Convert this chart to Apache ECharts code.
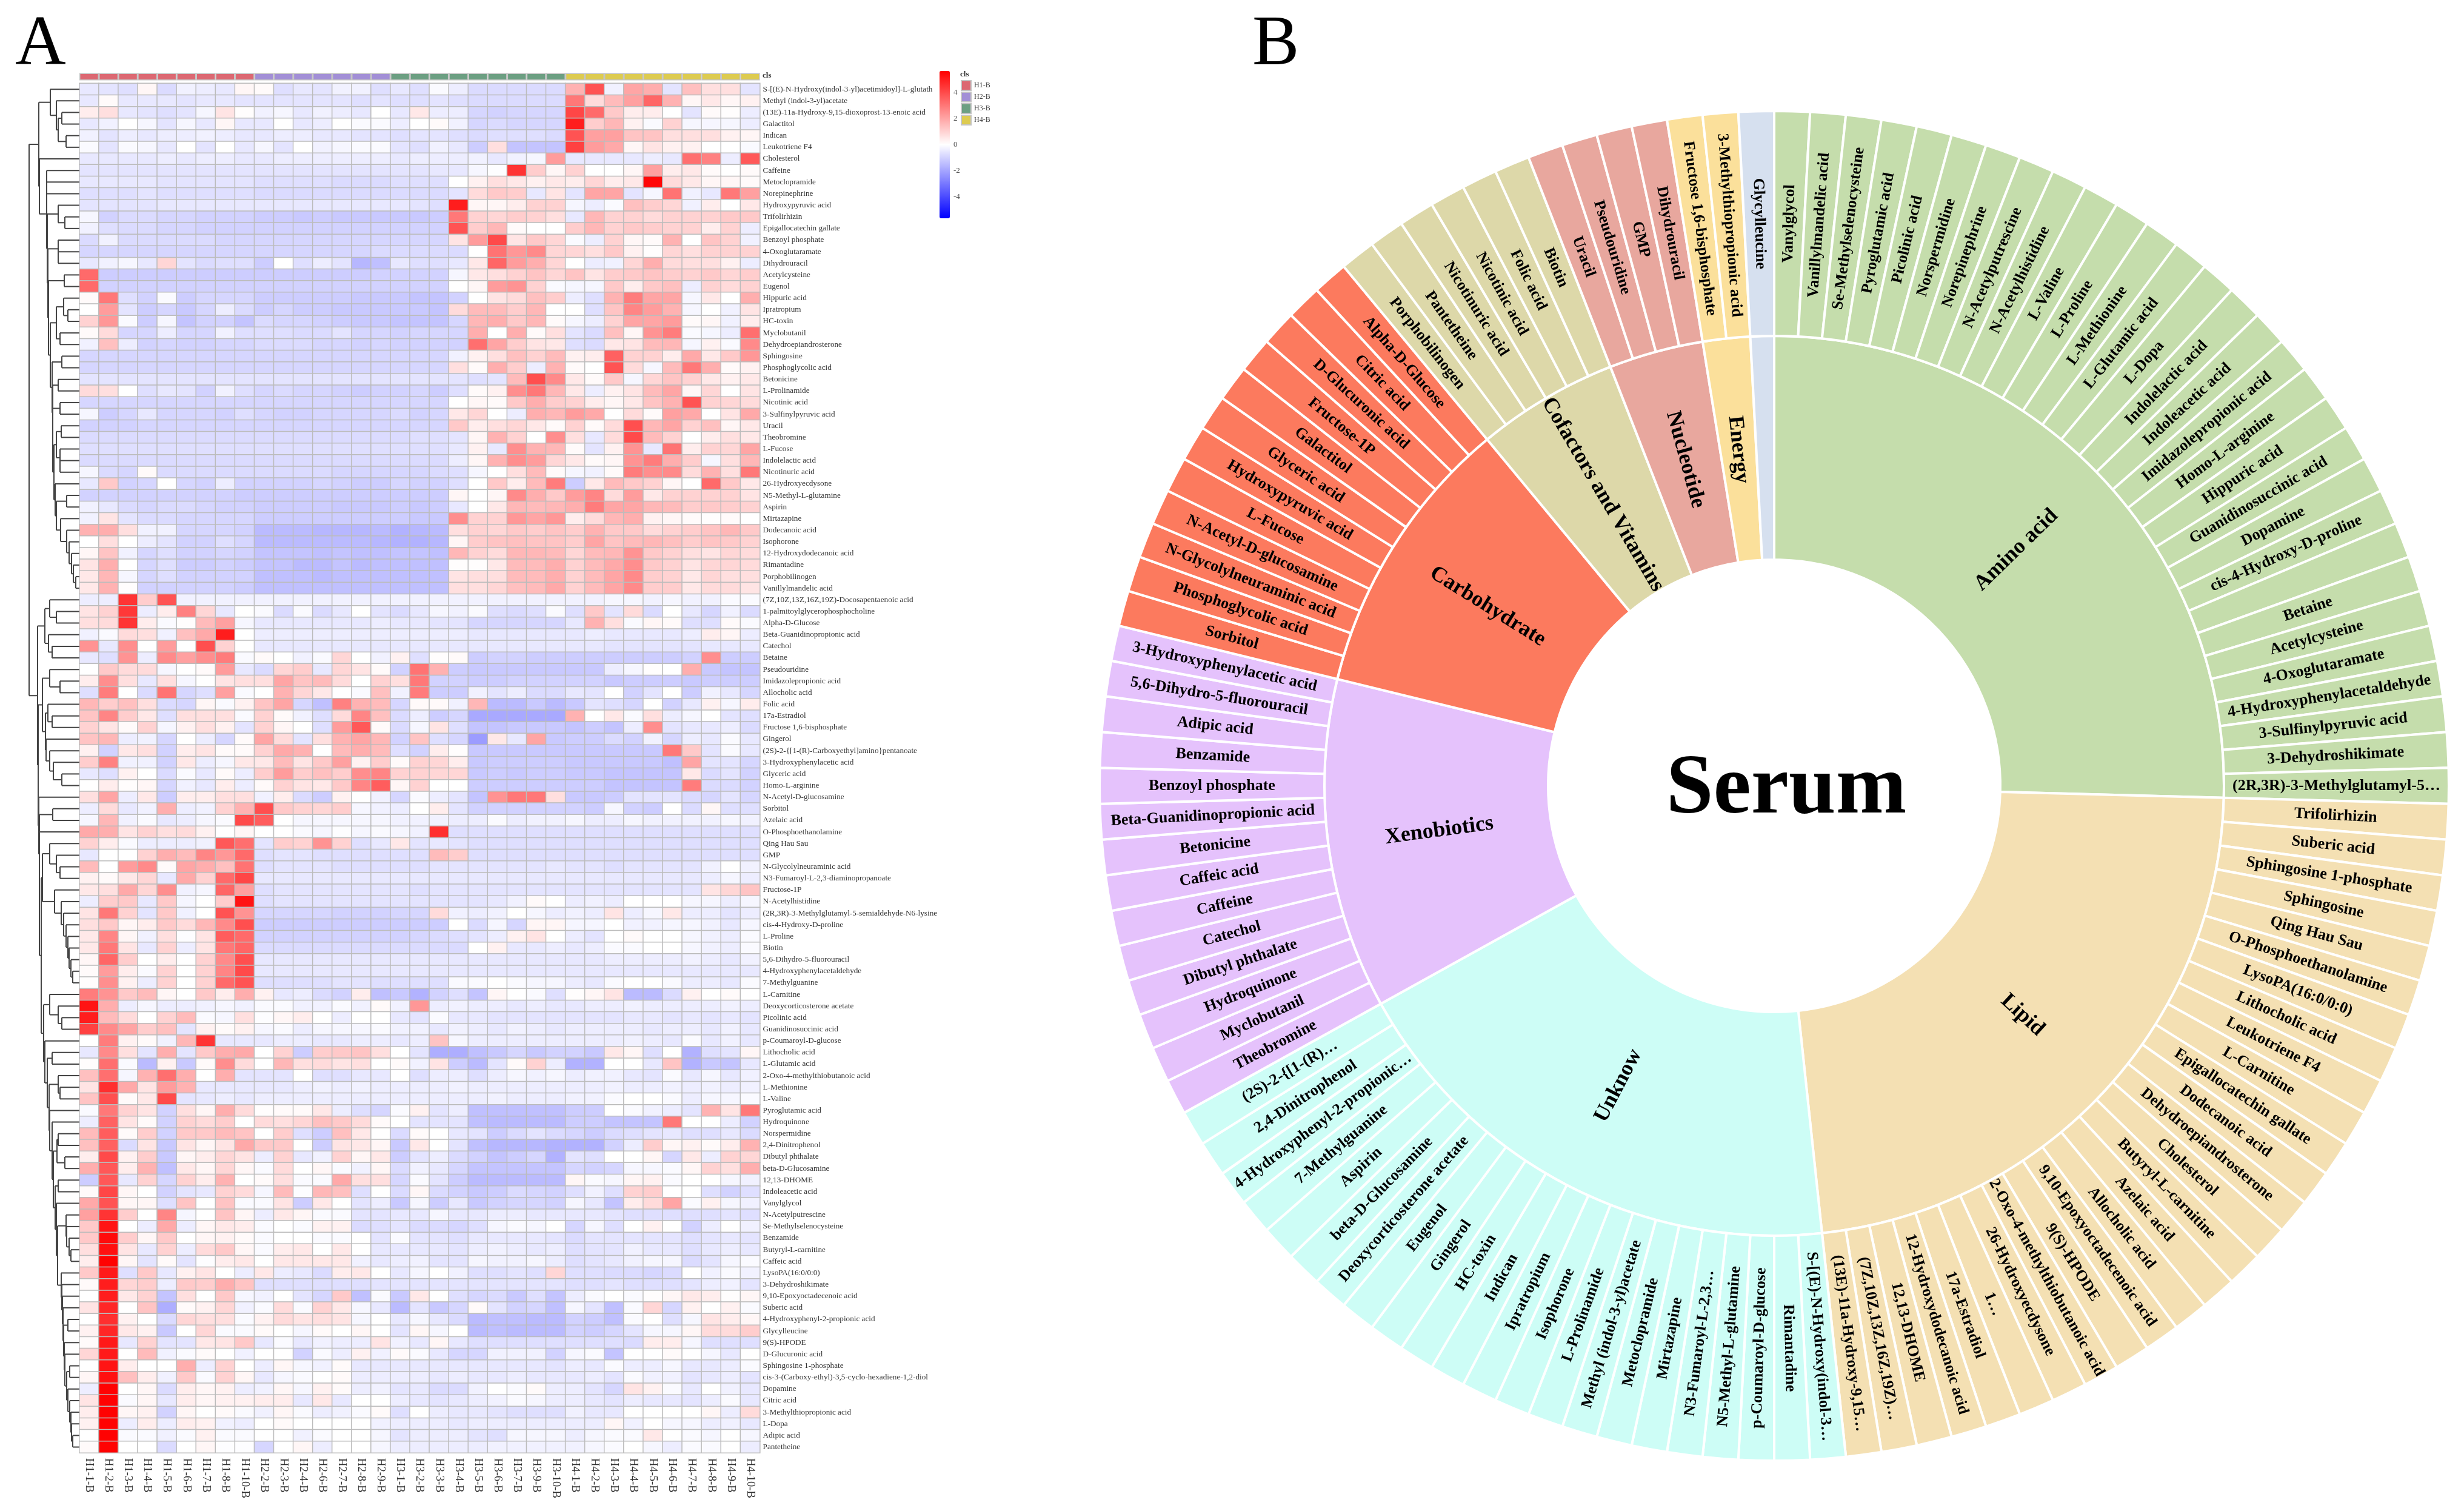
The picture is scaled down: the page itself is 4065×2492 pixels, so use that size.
<!DOCTYPE html>
<html><head><meta charset="utf-8"><style>html,body{margin:0;padding:0;background:#fff}#c{width:4065px;height:2492px}</style>
<script src="https://cdn.jsdelivr.net/npm/echarts@6/dist/echarts.min.js"></script></head><body><div id="c"></div><script>
const sampleNames=['H1-1-B','H1-2-B','H1-3-B','H1-4-B','H1-5-B','H1-6-B','H1-7-B','H1-8-B','H1-10-B','H2-2-B','H2-3-B','H2-4-B','H2-6-B','H2-7-B','H2-8-B','H2-9-B','H3-1-B','H3-2-B','H3-3-B','H3-4-B','H3-5-B','H3-6-B','H3-7-B','H3-9-B','H3-10-B','H4-1-B','H4-2-B','H4-3-B','H4-4-B','H4-5-B','H4-6-B','H4-7-B','H4-8-B','H4-9-B','H4-10-B'];
const groupNames=['H1-B','H2-B','H3-B','H4-B'];
const groupColors=['#DC6872','#A28FD6','#6C9F82','#DDCB50'];
const colorTicks=[-4,-2,0,2,4];
const rowNames=['S-[(E)-N-Hydroxy(indol-3-yl)acetimidoyl]-L-glutath','Methyl (indol-3-yl)acetate','(13E)-11a-Hydroxy-9,15-dioxoprost-13-enoic acid','Galactitol','Indican','Leukotriene F4','Cholesterol','Caffeine','Metoclopramide','Norepinephrine','Hydroxypyruvic acid','Trifolirhizin','Epigallocatechin gallate','Benzoyl phosphate','4-Oxoglutaramate','Dihydrouracil','Acetylcysteine','Eugenol','Hippuric acid','Ipratropium','HC-toxin','Myclobutanil','Dehydroepiandrosterone','Sphingosine','Phosphoglycolic acid','Betonicine','L-Prolinamide','Nicotinic acid','3-Sulfinylpyruvic acid','Uracil','Theobromine','L-Fucose','Indolelactic acid','Nicotinuric acid','26-Hydroxyecdysone','N5-Methyl-L-glutamine','Aspirin','Mirtazapine','Dodecanoic acid','Isophorone','12-Hydroxydodecanoic acid','Rimantadine','Porphobilinogen','Vanillylmandelic acid','(7Z,10Z,13Z,16Z,19Z)-Docosapentaenoic acid','1-palmitoylglycerophosphocholine','Alpha-D-Glucose','Beta-Guanidinopropionic acid','Catechol','Betaine','Pseudouridine','Imidazolepropionic acid','Allocholic acid','Folic acid','17a-Estradiol','Fructose 1,6-bisphosphate','Gingerol','(2S)-2-{[1-(R)-Carboxyethyl]amino}pentanoate','3-Hydroxyphenylacetic acid','Glyceric acid','Homo-L-arginine','N-Acetyl-D-glucosamine','Sorbitol','Azelaic acid','O-Phosphoethanolamine','Qing Hau Sau','GMP','N-Glycolylneuraminic acid','N3-Fumaroyl-L-2,3-diaminopropanoate','Fructose-1P','N-Acetylhistidine','(2R,3R)-3-Methylglutamyl-5-semialdehyde-N6-lysine','cis-4-Hydroxy-D-proline','L-Proline','Biotin','5,6-Dihydro-5-fluorouracil','4-Hydroxyphenylacetaldehyde','7-Methylguanine','L-Carnitine','Deoxycorticosterone acetate','Picolinic acid','Guanidinosuccinic acid','p-Coumaroyl-D-glucose','Lithocholic acid','L-Glutamic acid','2-Oxo-4-methylthiobutanoic acid','L-Methionine','L-Valine','Pyroglutamic acid','Hydroquinone','Norspermidine','2,4-Dinitrophenol','Dibutyl phthalate','beta-D-Glucosamine','12,13-DHOME','Indoleacetic acid','Vanylglycol','N-Acetylputrescine','Se-Methylselenocysteine','Benzamide','Butyryl-L-carnitine','Caffeic acid','LysoPA(16:0/0:0)','3-Dehydroshikimate','9,10-Epoxyoctadecenoic acid','Suberic acid','4-Hydroxyphenyl-2-propionic acid','Glycylleucine','9(S)-HPODE','D-Glucuronic acid','Sphingosine 1-phosphate','cis-3-(Carboxy-ethyl)-3,5-cyclo-hexadiene-1,2-diol','Dopamine','Citric acid','3-Methylthiopropionic acid','L-Dopa','Adipic acid','Pantetheine'];
const heatValues=[
[-.5,-.6,-.7,.2,-.8,-.3,-.4,-.5,.2,.1,-.7,-.5,-.6,-.3,-.3,-.7,-.5,-.7,-.1,-.4,-.8,-.8,-.8,-.8,-.8,1.7,3.8,-.3,2,1.8,-.6,1.4,.7,.7,-.6],
[-.5,.1,-.5,-.5,-.5,-.6,-.5,-.5,-.6,-.6,-.6,-.6,-.6,-.6,-.7,-.6,-.7,-.7,-.6,-.7,-.8,-.8,-.8,-.8,-.8,3,.8,1.5,2.1,3.4,1.7,.2,.5,.2,.3],
[.4,.7,-.5,-.6,-.7,-.6,-.2,.6,.05,-.3,-.2,-.5,-.3,-.4,-.5,0,-.5,.5,-.4,-.4,-.9,-1,-.9,-.9,-.9,4.1,3.3,1.2,.4,.4,0,-.6,.1,.05,-.4],
[-.5,-.3,0,-.2,-.6,-.2,-.5,.2,-.5,-.5,0,-.5,-.4,0,-.1,-.1,-.4,0,.1,-.3,-.9,-.8,-.9,-.9,-.9,5,1.1,1.6,.3,-.1,1,-.2,-.2,-.2,-.4],
[-.3,-.6,-.4,-.5,-.4,-.4,-.3,-.4,-.5,-.5,-.4,-.4,-.5,-.5,-.6,-.6,-.7,-.6,-.6,-.7,-.8,-.7,-.7,-.7,-.8,3.8,2.1,2.1,1.3,1.3,.7,.7,.7,.3,.2],
[-.1,-.6,-.1,-.2,-.5,0,-.6,0,-.5,-.2,-.6,0,-.3,-.2,-.1,-.1,-.6,-.7,-.3,-.5,-1.1,.7,-1.3,-1.3,-1.3,4.2,2.2,1.9,.2,.6,.3,.3,0,0,-.1],
[-.5,-.5,-.5,-.5,-.4,-.5,-.4,-.4,-.5,-.5,-.4,-.4,-.4,-.4,-.4,-.4,-.5,-.4,-.4,-.4,-.3,-.5,-.3,-.2,2.2,-.5,-.5,-.5,-.5,-.4,-.5,3.2,2.8,-.4,3.7],
[-.6,-.6,-.6,-.6,-.6,-.6,-.6,-.6,-.6,-.6,-.6,-.6,-.6,-.6,-.6,-.6,-.6,-.6,-.5,-.5,-.2,-.05,4.5,1.1,.2,1,0,0,.2,2.1,.4,.5,.1,0,.1],
[-.5,-.5,-.5,-.5,-.6,-.6,-.6,-.6,-.6,-.7,-.7,-.7,-.7,-.8,-.8,-.8,-.7,-.7,-.7,0,.3,.7,.5,.3,.5,.4,.9,.4,.5,5.5,.8,.5,.2,.2,.1],
[-.7,-.7,-.7,-.6,-.7,-.7,-.7,-.7,-.7,-.8,-.8,-.8,-.8,-.8,-.8,-.8,-.8,-.8,-.8,-.6,.8,1.2,1.1,-.5,.6,-.6,2,2,-.6,-.2,3.1,-.3,-.5,3,2.1],
[-.6,-.6,-.6,-.6,-.5,-.5,-.5,-.5,-.5,-.5,-.5,-.5,-.5,-.5,-.5,-.5,-.5,-.6,-.7,5,.2,.2,.4,1,1,-.2,-.4,-.1,1.4,1.1,.9,-.3,.4,0,.5],
[-.2,-1,-.8,-.8,-.9,-.9,-1,-1,-1,-1.1,-1.1,-1.2,-1.1,-1.2,-1.2,-1.2,-1.2,-1.2,-1.1,3,1,.9,1.1,1,.7,-.5,1.6,1,1,.8,1,1,1,1.2,1.2],
[-.3,-.7,-.8,-.8,-.9,-.9,-1,-1,-1,-1,-1,-1,-1,-1,-1,-1,-1,-1,-1,3.8,1.1,1.6,.1,0,0,1.1,1.6,1,1.2,1.1,1,1,.4,1,-.4],
[-.8,-.3,-.8,-.8,-.8,-.8,-.8,-.9,-.9,-.9,-.9,-.9,-.9,-.9,-.9,-.9,-.9,-.9,-.9,.6,2.2,4,.6,1.2,.9,-.1,-.4,1,.2,.1,1.7,0,1.3,1,-.3],
[-.9,-.9,-.9,-.9,-.9,-.9,-.9,-.9,-.9,-.9,-.9,-.9,-.9,-.9,-.9,-.8,-.8,-.8,-.8,-.8,0,3.1,2.3,2.6,.9,.9,.7,1.2,.3,.05,.9,.7,1,1,1],
[-.5,-.3,-.2,-.5,.9,-.6,-.8,-.7,-.7,-1.1,0,-.7,-.4,-.6,-1.6,-1.4,-.5,-.7,-.7,-.5,.5,3.4,2.2,1.8,.9,0,-.4,-.3,.9,1.8,.8,.7,.7,.3,-.4],
[3.3,-1.1,-1.1,-1.1,-1.1,-1.1,-1.1,-1.1,-1.1,-1.1,-1.1,-1.1,-1.1,-1.1,-1.1,-1,-1,-1,-1,-.2,.5,.7,1,1.3,.9,1.3,.6,1.1,1.2,1.3,1.1,1,1.2,.9,1.1],
[3.3,-1,-1,-1,-1,-1,-1,-1,-1,-1,-1,-1,-1,-1,-1,-1,-1,-1,-1,0,.2,2.2,2.4,1,-.1,-.2,-.2,1.2,.4,1.2,1.4,-.4,1,.8,1],
[.1,3,-.7,-1,-.1,-1.1,-.9,-.9,-.9,-1.1,-1.1,-1.1,-1.1,-1.1,-1.2,-1.2,-1.2,-1.3,-1.3,-1,0,.6,.8,1.4,1.1,-.4,-.7,1.7,2.9,2,2,-.2,.5,0,1.8],
[0,2.2,-.6,-1.1,-.9,-1.2,-.9,-.4,-.8,-1.1,-.9,-1.1,-1.1,-1.2,-1.2,-1.2,-1.2,-1.2,-1.3,.8,1.5,1.5,1.1,1.6,0,0,-.7,1.3,2.7,2.2,1.7,-.2,0,-.3,.6],
[1,2.3,-.1,-1.1,-.2,-1.3,-1,-1,-1.3,-.8,-.9,-.9,-1,-1.1,-1.2,-1.2,-1.3,-1.3,-1.3,-.9,1.6,1.8,1.2,1.6,.1,-.2,-.4,1,2,2,2.2,.1,.2,-.3,.4],
[.1,.8,-.9,-.9,-.4,-.9,-.9,-.3,-.7,-.7,-.7,-.8,-.8,-.6,-.9,-.9,-1,-.9,-.9,-.9,1.8,0,1.8,.1,.7,-.6,-.8,1.4,.2,2.4,2.9,-.1,-.2,-.4,3.2],
[-.3,1.4,-.4,-1,-.9,-1,-1,-.9,-.9,-.8,-.8,-.8,-.9,-.9,-1,-.9,-1,-1,-1,-1,3.2,2,1.1,.6,.5,-.7,-.8,.5,.6,1.5,1.6,-.2,.3,-.1,2.6],
[-.9,-.9,-.9,-.9,-.9,-.9,-.9,-.9,-.9,-.9,-.9,-.9,-.9,-.9,-.9,-.9,-.9,-.9,-.9,-.3,.3,.7,1.4,1,1.5,.3,.4,3.5,1,1,.4,1.9,.5,1.2,2.3],
[-.9,-.9,-.9,-.9,-.9,-.9,-.9,-.9,-.9,-.9,-.9,-.9,-.9,-.9,-.9,-.9,-.9,-.9,-.9,.7,.1,1.8,1.1,-.4,1.7,.1,0,3.8,.8,-.2,1.5,3,1.8,.1,.3],
[-.6,-.6,-.6,-.6,-.6,-.6,-.6,-.6,-.6,-.6,-.6,-.6,-.6,-.6,-.6,-.6,-.6,-.6,-.6,-.6,-.7,-.6,1.5,3.9,2.6,.5,.1,1.2,-.2,.9,1.3,1,.5,.3,.5],
[.8,.7,0,-.7,-.5,-.6,-1,-.3,-.7,-.9,-.8,-.9,-.9,-1,-1.1,-1,-1,-.9,-1.1,-.7,.1,.3,2.5,3,1.6,.5,-.4,.3,.6,1.5,2,.2,.9,0,.6],
[-.9,-.9,-.9,-.9,-.9,-.9,-.9,-.9,-.9,-.9,-.9,-.9,-.9,-.9,-.9,-.9,-.9,-.9,-.9,0,.2,.1,1.2,1.8,1.1,1,.4,.2,.5,1.3,1.7,3.8,1,.9,.8],
[-.2,-1.1,-.9,-.5,-.9,-.9,-.9,-1,-.7,-.9,-1,-1,-.9,-.9,-.9,-.9,-.8,-1,-.9,.5,.9,0,-.4,1.8,1.6,2.2,1.9,0,.8,.1,2.1,1.9,0,.6,1.9],
[-1,-1,-1,-.9,-.9,-.9,-.9,-.9,-.9,-.9,-.9,-.9,-.9,-.9,-.9,-.9,-.9,-.9,-.9,1.2,.4,.7,.9,.5,.1,1,.1,.8,3.9,1.6,2,1,1.4,.2,.5],
[-.8,-.8,-.8,-.8,-.8,-.8,-.8,-.8,-.8,-.8,-.8,-.8,-.8,-.8,-.8,-.8,-.8,-.7,-.7,-.6,.2,1.7,1,0,2.5,.7,-.5,.8,4,1.5,1,0,.4,.7,.5],
[-.7,-.7,-.7,-.7,-.7,-.7,-.7,-.7,-.7,-.7,-.7,-.7,-.7,-.7,-.7,-.7,-.7,-.7,-.7,-.5,.3,-.5,2.5,1.7,1.6,.1,-.6,.3,2.4,-.5,3.1,.4,1,.9,2],
[-.8,-.8,-.8,-.8,-.8,-.8,-.8,-.8,-.8,-.8,-.8,-.8,-.8,-.8,-.8,-.8,-.8,-.8,-.8,-.4,.2,1.7,2.5,2.2,.9,.5,.1,.2,2.4,2.9,1.8,1.1,-.2,.7,1.6],
[-.2,-.8,-.9,.1,-.8,-.8,-.8,-.8,-.8,-.8,-.8,-.8,-.8,-.9,-.9,-.9,-.9,-.9,-.8,-.7,-.2,0,.7,1.5,.1,-.2,-.3,.1,2.9,2.5,2.6,.8,1.7,.7,3],
[-.5,1.2,-1,-.9,0,-.9,-1,-.4,-1,-1,-1,-1,-.9,-1,-1.1,-1.1,-.9,-1,-1,-.7,0,1.2,.4,1.5,2.9,-1.1,.5,1.5,1.2,1,.2,0,3.3,1.2,.5],
[-1,-1,-1,-1,-1,-1,-1,-1,-1.1,-1.1,-1.1,-1.1,-1.1,-1.1,-1.1,-1.1,-1.1,-1.1,-1.1,.2,0,.2,2.6,1.8,1.2,2.2,2.7,.8,2.2,.5,1,1,1,1,.6],
[-.3,-.5,-.8,-.9,-.8,-.8,-.9,-1,-1,-1.1,-1.1,-1.1,-1.1,-1.2,-1.2,-1.2,-1.1,-1.2,-1.1,-.5,0,.5,1.6,1.5,1.6,1.8,2.9,2,2,1.6,1.5,1.1,1.2,1.1,1],
[-.3,.6,-.6,-.8,-.8,-.9,-.9,-.9,-.9,-1.1,-1.1,-1.1,-1.1,-1.1,-1.1,-1.1,-1.1,-1.2,-1.2,2.5,1,1,2.3,2,2.3,.4,.8,1.6,1.8,.3,.2,.1,.05,.1,0],
[1.7,1.8,.7,-.3,-.3,-.9,-.9,-.9,-1,-1.5,-1.5,-1.5,-1.6,-1.6,-1.6,-1.5,-1.7,-1.6,-1.5,.7,1,.9,1.2,1.1,1.3,1.1,1.7,1.2,1.2,.8,1,1.1,1.3,1.6,1.2],
[0,.7,0,-.4,-.6,-1,-1,-.7,-.9,-1.5,-1.5,-1.5,-1.5,-1.5,-1.5,-1.6,-1.7,-1.7,-1.6,.2,1.1,1.3,1.4,1.3,1.3,1.1,2,1.3,1.5,1.6,1.4,1.1,1.3,1.2,1],
[.2,1.3,-.3,-.9,-.7,-1,-1,-.9,-1,-1.3,-1.3,-1.3,-1.4,-1.3,-1.4,-1.4,-1.3,-1.3,-1.4,1.6,1,.8,1.6,1.6,1.5,.9,1.5,1.6,2.4,1.2,1,.7,.6,.9,.8],
[.6,1.8,0,-.9,-.7,-1.1,-1.1,-1,-1.1,-1.3,-1.3,-1.5,-1.5,-1.3,-1.5,-1.4,-1.4,-1.4,-1.4,.05,.05,.5,1.5,1.5,1.8,1,1.5,1.9,2.5,1.2,1,.6,.9,.9,.8],
[.5,1.6,-.2,-.9,-.7,-1,-1,-1,-1,-1.4,-1.4,-1.4,-1.5,-1.4,-1.4,-1.4,-1.4,-1.4,-1.4,.6,.7,.7,1.5,1.5,1.8,1,1.5,2,2.6,1.1,1,.5,.9,.7,.7],
[.5,1.7,.05,-1,-1,-1,-1,-1,-1.1,-1.4,-1.4,-1.4,-1.4,-1.4,-1.4,-1.4,-1.4,-1.4,-1.4,.7,.7,.9,1.4,1.5,1.9,1,1.5,2,2.6,1.1,1.1,.5,.8,.8,.6],
[-.4,-.4,4.5,1.1,3.8,-.3,-.3,-.3,-.3,-.3,-.3,-.3,-.3,-.3,-.3,-.3,-.3,-.3,-.3,-.3,-.3,-.3,-.3,-.3,-.3,-.3,-.3,-.2,-.2,-.3,-.2,-.3,-.3,-.1,-.1],
[.6,1,4.4,-.4,.4,2.8,.9,-.5,0,-.1,-.8,-.1,-.8,-.5,0,-.6,-.8,-.5,-.2,-.3,-.1,-.7,-.8,-.7,-.1,-.7,1.2,-.6,.8,-.8,0,-.5,-.9,-.3,-.8],
[.7,.8,4.5,.4,-.1,.05,1.5,2.1,-.2,-.5,-.5,-.5,-.5,-.5,-.5,-.4,-.5,-.5,-.6,-.6,-.9,-.9,-.9,-.9,-.9,-.5,1.7,.7,-.1,.2,.1,-.7,-.7,.1,-.1],
[-.3,-.1,.8,.7,-.3,1.4,1.9,5,0,-.4,-.4,-.4,-.4,-.4,-.4,-.4,-.4,-.4,-.4,-.4,-.5,-.5,-.5,-.5,-.5,-.5,-.4,-.5,-.5,-.5,-.5,-.4,.4,.2,-.4],
[2.4,-.5,2.5,0,2.2,0,3.9,1,0,-.5,-.5,-.5,-.5,-.5,-.5,-.5,-.5,-.5,-.5,-.5,-.5,-.5,-.5,-.5,-.5,-.5,-.5,-.6,-.6,-.6,-.6,-.6,-.5,-.5,-.5],
[-.5,-.7,2.4,-.4,2.6,2.1,2.5,2.9,-.1,.1,0,-.3,-.1,.9,0,-.3,.3,-.7,.05,.1,-1.1,-1,-1,-1.1,-1.1,-1.1,-1.1,-1.1,-1.1,-1.1,-1.1,-1,2.5,-1.1,-1.1],
[0,1.2,.8,.8,-.2,0,.1,2.2,-.5,-.8,.9,1.1,-.5,.9,.6,.1,-1,3.1,1.7,-1.1,-1.2,-1.2,-1.2,-1.2,-1.2,-1.2,-1.2,-.4,-.2,.05,0,1.8,-1.2,-1.3,-1.3],
[.4,2.5,.7,-.5,.7,-.2,0,.6,.7,.7,2,1.3,1.5,.8,0,1,.7,3,-1,-1,-1.1,-1.1,-1,-1,-1,-1,-1,-1.2,-1.1,-1.1,-1.1,-1.2,-1.1,-1.1,-1.1],
[-.7,2.9,0,-.8,3.1,-.9,-.7,2.1,-.1,0,1.7,.9,.5,0,-.1,1.4,-.3,2.9,-1.1,-1.1,-.3,-.6,-.4,-.8,-.8,-.5,-.6,0,-1,-.6,0,-1.1,-.3,-.5,-.9],
[1.6,1.1,1.4,.7,-.8,-.9,.2,-.1,.3,1.3,2,-.9,-1.4,2.8,1.7,1.5,-.9,.1,.1,-.3,1.6,-1.5,-1.5,-1.2,-1.5,-1.2,-.6,-.7,-.9,0,-1,-.5,.3,-.2,.4],
[1.3,2.7,1.1,.5,-.7,.7,.7,.7,-.1,1,.1,-.3,-.7,.8,2.7,1.4,-.8,-.4,-1.1,-.9,-1.9,-1.9,-1.9,-1.9,-1.9,1.7,0,.5,-.1,.7,-.4,-.2,0,-.6,-.7],
[1,.6,.1,1,-.2,.3,.7,.3,-.6,1,.2,0,-.7,2.2,3.7,.1,-.8,-.2,.6,-.7,-1.3,-1.3,-1.2,-1.2,-1.2,-1.3,-1.1,-1.3,-.4,2.5,-.6,-.5,-.5,-.4,-.8],
[1.3,1.6,-.4,-.3,-.9,0,-.4,-.9,.1,2,.8,-.6,.7,1.7,2,1.6,-1,1.3,-.7,-.9,-2.2,.5,-.5,2,-1.2,-1.1,-1.1,-.8,-1,-.3,-.9,-.4,-.5,-.1,-.5],
[.3,-1,.5,.7,-1,.4,.6,.1,.1,1,1.9,1.7,0,1.5,1.8,1.5,-.7,-1,.4,.05,-1.2,-1.2,-1.2,-1.2,-1.2,-1.2,-1.2,-1.2,-1.2,-1.2,3,1.2,-.6,-.1,-.5],
[1.1,2.8,-.3,-.3,-1,.5,-.4,-.2,.5,.5,1.5,.6,1.2,2.1,.3,1.1,.1,1,.9,.4,-1.2,-1.1,-1.1,-1.1,-1.1,-1.2,-1.2,-1.2,-1.2,-1.2,-1.4,2,-.6,-.6,-.9],
[-.5,-.7,.3,0,-.8,-.1,-.5,.1,-.4,1.1,2.2,1.1,1.4,1.1,2.5,2.7,1,1,.9,.9,-1.2,-1.1,-1.2,-1.1,-1.1,-1.2,-1.2,-1.3,-1.3,-1.3,-1.3,.5,-.8,-.6,-1],
[0,.4,.05,.2,-.9,-.3,-.5,.4,-.4,.1,1,.6,.5,1.2,2.7,3.6,.2,1,0,0,-1.1,-1.1,-1.1,-1.1,-1.1,-1.1,-1.1,-1.3,-1.3,-1.3,-1.3,2.9,-.8,-.8,-1],
[.7,2,-.4,.5,-1.1,.4,.4,.7,.7,-.3,.4,-.8,-1.1,.3,0,-.3,-.9,-.1,-.4,-.6,-1.3,2.4,3,3,.7,-1.2,-1.2,-1.1,-.6,-.6,-.6,-.8,-.9,-.6,-.9],
[-.4,.8,-.5,-.3,1.8,-.4,-.3,1,1.7,3.9,1.2,1,.9,1.1,-.2,-.3,-.4,0,.4,-.6,-1,-1,-1,-1,-1,-1,-1.1,-.2,-1,-1.1,0,-.8,.2,-.7,-.7],
[-.2,1.6,-.3,-.1,-.5,-.4,-.2,-.1,4,3.6,0,-.2,-.2,-.2,-.2,-.2,-.3,-.3,-.3,-.4,-.4,-.1,-.4,-.3,-.3,-.2,-.4,-.4,-.2,-.3,-.3,-.3,-.3,-.2,-.3],
[1.9,1.8,.6,1,.7,.8,.3,0,.2,0,0,-.1,-.2,-.05,-.2,-.1,-.2,-.3,4.6,-.7,-.7,-.7,-.7,-.7,-.7,-.7,-.7,-.7,-.7,-.7,-.7,-.7,-.7,-.7,-.7],
[1,.4,-.1,-.4,-.4,-.4,-.3,3.7,3.2,-.6,1.1,1,2.4,1,-.7,-.5,.5,-.6,-.5,-.6,-.7,-.7,-.7,-.7,-.7,-.7,-.7,-.7,-.7,-.7,-.7,-.7,-.7,-.7,-.7],
[-.5,0,0,1,1.8,1.5,2.7,2.3,3.3,-.7,-.6,-.6,-.7,-.7,-.7,-.7,-.7,-.7,1.5,1.1,-.7,-.7,-.7,-.7,-.7,-.7,-.7,-.7,-.7,-.7,-.7,-.7,-.7,-.7,-.7],
[1.5,0,2.2,2.6,.1,2,1.8,1.4,3.1,-.7,-.6,-.6,-.6,-.7,-.7,-.7,-.7,-.7,-.6,-.6,-.6,-.6,-.6,-.6,-.5,-.6,-.6,-.7,-.6,-.6,-.6,-.6,-.3,0,-.3],
[.3,.1,.5,.9,-.5,1.9,1,3.3,4.1,-.5,-.5,-.5,-.5,-.5,-.5,-.5,-.5,-.5,-.5,-.5,-.5,-.5,-.5,-.5,-.5,-.5,-.5,-.5,-.5,-.5,-.5,-.5,-.4,-.2,-.4],
[.5,.7,1.9,.9,2.5,-.3,-.2,3.4,2.1,-.7,-.6,-.6,-.6,-.6,-.6,-.6,-.6,-.7,-.6,-.6,-.6,-.6,-.6,-.6,-.6,-.6,-.6,-.6,-.6,-.6,-.6,-.6,.6,.9,1.3],
[-.4,1.1,1.2,-.5,1.2,-.2,0,1.1,5.2,-.7,-.6,-.6,-.6,-.6,-.6,-.6,-.6,-.6,-.6,-.6,-.6,-.5,-.3,.1,0,-.4,-.3,-.4,0,0,0,-.2,-.2,-.4,-.2],
[.6,3,1,-.6,1.2,-.3,0,3.8,2.4,-.9,-.9,-.9,-.9,-1,-1,-1,-.9,-.9,.8,-.3,-.4,-.3,0,-.2,-.4,-.3,-.4,.6,-.4,-.2,.5,-.4,-.4,-.6,-.4],
[.7,1.2,.2,.4,1.2,.8,1.6,2.6,3.9,-1.1,-1.1,-1.1,-1.1,-1.1,-1.1,-1.1,-1.1,-1.1,-1.1,0,-.8,-.2,-.9,.2,.2,-.2,-.2,0,-.3,-.3,-.2,-.2,-.3,-.5,-.2],
[.5,2.7,.2,-.3,.7,-.05,.6,3.6,3.3,-1,-1,-1,-1,-1,-1,-1,-1,-.9,-.8,-.7,-.6,-.4,.3,.6,0,-.4,-.6,0,.1,0,0,-.2,-.3,-.4,-.1],
[.5,3,.6,-.5,1,-.4,.6,3,3.4,-.8,-.8,-.8,-.8,-.8,-.8,-.8,-.8,-.8,-.8,-.8,0,.3,-.5,-.5,-.4,-.5,-.4,-.1,-.1,0,0,-.2,-.3,-.4,-.1],
[.2,3.4,1.1,0,.4,0,1,2.6,3.9,-.5,-.5,-.5,-.5,-.5,-.5,-.5,-.5,-.5,-.5,-.5,-.5,-.5,-.5,-.5,-.5,-.5,-.5,-.4,-.4,-.4,-.4,-.3,-.4,-.5,-.3],
[.1,2.2,.4,-.1,1,0,1,2.7,4,-.5,-.5,-.5,-.5,-.5,-.5,-.5,-.5,-.5,-.5,-.5,-.5,-.5,-.5,-.5,-.5,-.5,-.5,-.5,-.5,-.5,-.5,-.5,-.5,-.5,-.5],
[.05,2.5,.3,-.4,1,0,1,3.3,3.8,-.7,-.7,-.7,-.7,-.6,-.6,-.7,-.7,-.7,-.7,-.1,-.1,0,-.1,-.2,-.2,-.4,-.5,-.1,0,0,-.1,-.4,-.4,-.5,-.1],
[2.9,2.4,1.2,1.5,.2,0,1.2,.4,1.8,.3,-.5,-.4,-.8,-1,.4,-1.4,-1.2,-1.7,-1,-.7,-1.3,.2,0,-.1,-.7,.05,.2,.6,-1.5,-1.5,-.8,.3,0,.1,0],
[5.2,1.8,-.4,-.2,-.4,-.4,-.3,-.2,-.3,-.1,-.1,-.3,-.3,-.1,-.3,.1,-.3,2.3,-.4,-.3,-.4,-.4,-.5,-.4,-.5,-.5,-.4,-.4,-.3,-.4,-.4,-.4,-.4,-.3,-.4],
[5,1.5,.8,0,1,1.5,-.1,-.2,.7,-.05,.2,.4,0,-.4,0,0,-.5,-.6,-.1,-.5,-.5,-.6,-.6,-.6,-.6,-.6,-.6,-.6,-.5,-.5,-.6,-.5,-.6,-.5,-.6],
[4.2,2.6,2,1.1,1.4,-.6,.3,.1,.3,-.2,-.1,-.4,-.2,-.2,-.2,-.1,-.3,-.3,-.5,-.3,-.4,-.5,-.3,-.4,-.5,-.4,-.4,-.4,-.4,-.5,-.4,-.4,-.5,-.3,-.5],
[0,2.9,.3,.1,-.3,1.6,4.5,-.5,-.5,-.5,-.4,-.4,-.5,-.5,-.4,-.4,-.5,-.4,1.3,-.2,-.4,-.4,-.4,-.4,-.4,-.4,-.4,-.4,-.3,-.4,-.5,-.1,-.5,-.3,-.5],
[-.5,2.6,.7,-.6,1.8,-.6,1.2,1.8,1.9,0,1,-1.1,1.1,1.2,1.3,.7,0,-.6,-1.8,-1.8,-1.4,-1.2,-.9,-1.2,-1,-1,-1.2,.5,.2,-.7,0,-1.7,-.7,-.6,.2],
[.05,3.2,-.1,-1.5,.3,-1.2,.1,2.5,.8,0,1.6,.7,.8,.6,.7,0,.1,-.3,.6,-1.1,-1.5,-.6,.1,1,-.4,-1.7,-1.7,0,0,-.5,1.3,-1.7,-1.2,-1.3,-.5],
[1.4,3.2,-.2,1.7,3.2,1.8,0,1.8,-.6,-.6,-.6,0,-.7,-.7,-.5,-.5,0,-.7,-.4,-.4,-.7,-.4,-.2,-.3,-.2,-.4,-.3,-.3,-.5,-.6,-.1,-.5,-.2,-.5,-.3],
[.6,4.6,1.9,.6,2.2,1.7,-.5,-.5,-.5,-.5,-.5,-.4,-.3,-.4,-.3,-.4,-.4,-.4,-.4,-.3,-.4,-.4,-.4,-.4,-.4,-.4,-.4,-.3,-.4,-.4,-.3,-.4,-.3,-.4,-.3],
[1.3,3.9,.1,.5,4,-.6,-.5,-.4,-.5,-.4,-.4,-.4,-.4,-.4,-.4,-.4,-.4,-.4,-.4,-.4,-.4,-.3,-.4,-.4,-.4,-.3,-.3,-.1,0,0,-.1,-.4,-.2,-.2,-.1],
[-.1,3,1,.6,-1,.7,.2,1.8,.8,.05,.1,.1,.5,-.4,-.7,-.9,-.1,.3,-.6,-.4,-1.4,-1.4,-1.4,-1.4,-1.4,-1.1,-1.1,0,-.1,-.3,-.4,-.6,1.7,.6,3],
[-.4,3.5,.6,.1,-1,1,.8,1.1,0,.8,.7,.9,1.4,1.2,.8,.1,0,-.6,-.6,-.6,-1.4,-1.5,-1.5,-1.5,-1.5,-1.1,-1.1,-1.3,-1.3,-1.3,3,0,0,-.4,-1],
[1.5,3.6,.1,1.1,-1,1.2,1.2,1.5,1.3,0,1.1,-.7,-1.1,1.4,.5,0,-.8,.1,0,-.5,-.6,-1.1,-.8,-.6,-.8,-.9,-1.1,-.8,-.7,-.6,-.5,-.7,-.7,-.5,-.8],
[1.4,3.5,-.8,.6,-1.2,.6,.2,.6,1.9,1.2,1.2,0,-1.1,.6,.5,.2,-1.2,.5,0,-.6,-1.4,-1.6,-1.6,-1.6,-1.7,-1.7,-1.7,-1,-.4,1.1,.2,.3,.1,.4,1.7],
[.4,4,.3,1.1,-1.2,.2,.4,.9,.6,-.4,1,-.5,-.3,1,.2,.5,-1.1,-.6,-.4,-.8,-1,-1.3,-1.1,-.9,-1.7,-.6,-.7,0,0,.2,-.9,.5,-.4,1,.9],
[1.8,3.7,.4,1.7,-1.4,.5,.2,.9,.2,-.1,.8,0,.2,-.1,-.3,.2,-.8,-.3,-.5,-.9,-1.3,-1.3,-1.3,-1.3,-1.3,-.9,-1,-.9,-.2,-.2,-.1,.2,1,.7,1.8],
[-1.1,3.7,-.5,1,-.9,1,.4,1.7,0,.1,.7,-.1,-.1,1.9,.7,.7,-.9,-.1,-.6,-1.1,-1.5,-1.5,-1.5,-1.5,-1.5,.2,-.1,-.2,.2,.3,-.1,0,0,-.2,-.3],
[.1,4.1,.2,0,-1,-.6,-.5,1,.8,-.2,1.5,-.05,1.6,1.4,-.7,0,-.8,.2,-.8,-1,-1.2,-1.1,-.8,-.9,-1,-.7,-.3,-.7,1,1.1,0,0,-.7,-1,-.7],
[1.9,3.8,.2,.2,-.7,1.3,0,1.3,-.1,-.1,.6,-1.1,.5,0,-.6,-.4,-1.2,-.2,-1.1,-.5,-1.2,-1,-.9,-.9,-1,-.2,-.5,-1.3,.4,.8,2,-.1,.3,-.2,-.3],
[2.1,4.5,1.1,0,2.7,-.2,0,1.3,.2,-.4,.5,.2,-.1,-.1,-.6,-.6,-.5,-.5,-.2,-.5,-.5,-.4,-.4,-.5,-.5,-.5,-.5,-.6,-.7,-.7,-.7,-.7,-.7,-.6,-.7],
[1.2,5.2,0,-.4,1.9,-.4,.2,.5,.4,-.1,0,-.1,.3,.3,-.8,-.7,-.6,-.8,-.8,-.9,-.7,-.2,-.1,-.2,0,-.9,-.2,-.7,0,.3,0,-1,-.4,0,-.3],
[1.2,5.4,1.1,.2,1.2,0,.2,.3,.1,-.1,0,0,-.1,-.1,0,-.6,-.1,-.6,-.6,-.7,-.5,-.5,-.5,-.5,-.6,-.8,-.6,-.6,-.6,-.6,-.6,-.7,-.6,-.5,-.6],
[.7,5.3,.6,-.5,1,-.4,.8,1.2,.2,-.1,.4,.5,0,.5,0,-.5,-.5,-.5,-.5,-.6,-.4,-.3,-.4,-.5,-.4,-.7,-.6,-.6,-.3,-.5,-.5,-.7,-.5,-.4,-.5],
[.4,5.6,.2,-.6,.1,-.6,-.05,.4,.5,0,.5,.5,.5,.5,-.3,-.5,-.4,-.3,-.6,-.6,-.2,-.3,-.3,-.2,-.4,-.7,-.6,-.5,-.3,-.2,-.2,-.8,-.6,-.2,-.1],
[1.2,5.1,-.7,1.2,-.5,.3,.6,0,-.4,.5,-.4,-.5,-.8,.4,.5,0,-.5,-.2,0,-.3,-.7,-.7,-.6,-.7,.9,-.7,-.7,-.8,-.8,-.9,-.8,0,-.3,-.1,-.3],
[.1,5,.9,1.1,-.4,1.2,1.1,1.8,1.3,-.7,-.7,-.7,-.7,-.7,-.7,-.6,-.6,-.6,-.6,-.6,-.6,-.6,-.6,-.6,-.6,-.7,-.7,-.6,-.7,-.7,-.7,-.6,-.4,-.3,-.6],
[0,5,.5,1,-1.3,.7,0,1.2,-.2,-.3,0,-.6,-.9,1.2,-1.4,-.1,-1.2,.5,0,-.7,-.9,-.8,-1.2,-.7,-1.3,-.4,-.1,0,-.1,.05,.2,.5,.4,.05,.2],
[.6,4.8,0,1.3,-1.8,.1,.3,.9,-.3,-.1,.8,-.1,1,.5,-.2,-.5,-1.5,-.6,-1.2,-.9,.1,-.6,-1,-.9,-1.4,-.2,-.6,-1.4,-.1,.9,-.9,.3,0,.3,-.1],
[0,4.6,.3,0,-.8,.9,.7,.7,-.1,.3,.8,.6,.7,.6,-.2,0,-.5,-.2,-.5,-.8,-1.5,-1.4,-1.4,-1.5,-1.5,-1,-1.1,-1.4,-.1,0,-.7,-.2,.6,.4,.2],
[.3,4.8,.5,.3,-1.2,0,.9,-.1,-.1,.1,0,-.2,.1,0,.2,0,-.6,.2,-.2,0,-1.5,-1.4,-1.5,-1.5,-1.5,-1,-1.1,-.9,-.6,-.2,-.2,.2,.8,.8,1.1],
[.1,5.1,-.5,1,-.6,-.6,.5,.6,1.2,-.5,-.1,-.5,-.3,-.4,-.4,.6,-.3,-.5,.2,-.5,-.7,-.7,-.7,-.7,-.7,-.7,-.7,-.7,-.8,.4,.4,-.2,-.7,-.7,-.7],
[.9,5.1,0,1.5,-.3,-.1,.1,0,-.3,0,0,-1,-.1,-.4,.3,-.3,.1,-.1,-.5,-.9,-.9,-.3,-.3,-.3,-1,-.2,-.1,-1.3,0,0,.1,0,-.2,-.5,0],
[0,5.2,.4,0,0,1.8,-.4,1,0,-.4,.2,-.2,-.3,.1,-.5,-.5,-.5,-.5,-.5,-.5,-.5,-.5,-.5,-.5,-.6,-.4,-.5,-.1,-.4,-.4,-.2,-.5,-.5,-.4,-.1],
[.2,5.3,1.4,.4,-.3,1.2,-.1,1,.2,-.5,-.2,-.1,0,.1,-.4,-.4,-.4,-.4,-.5,-.4,-.5,-.5,-.4,-.5,-.5,-.5,-.4,-.6,-.1,-.3,-.3,-.6,-.5,-.4,-.6],
[-.4,5.6,0,.2,-.8,.4,.2,.3,-.4,-.3,.2,-.2,.3,.1,-.4,-.3,-.6,-.5,-.8,-.8,-.3,0,-.1,.1,-.4,-.4,-.6,-.9,.6,.3,-.1,-.5,0,-.3,-.5],
[.6,5.6,-.1,.2,-.5,.4,.2,.3,.3,.4,.4,-.5,.5,-.5,0,0,-.4,-.5,-.6,-.5,-.4,-.3,-.1,-.2,-.4,-.4,-.5,-.6,-.4,-.5,-.5,-.6,-.4,-.1,-.5],
[.4,5.6,.2,.3,-1,.2,0,.1,-.1,-.3,.2,-.1,-.4,-.3,-.1,.1,-.7,0,-.4,-.5,-.5,-.6,-.7,-.7,-.7,-.3,-.5,-.5,0,0,0,0,.2,-.4,.8],
[.3,5.6,-.4,.4,-.4,.4,.3,-.3,-.4,0,.1,0,0,0,0,-.3,-.4,-.4,-.4,-.5,-.4,-.4,-.4,-.4,-.4,-.4,-.4,.2,-.3,0,-.2,-.2,-.4,-.3,-.5],
[0,5.6,-.1,-.1,-.3,-.1,.3,-.1,-.1,0,0,-.3,-.1,0,0,-.2,-.6,-.4,-.4,-.4,-.6,-.7,-.2,-.2,-.2,-.4,-.2,-.1,-.1,.5,0,-.1,-.2,0,-.2],
[.1,5.6,0,0,-.8,0,.2,-.05,-.05,-.9,0,.2,-.4,0,0,-.2,-.4,-.4,-.4,-.4,-.4,-.3,-.3,-.3,-.3,-.3,-.2,-.1,0,-.2,-.4,-.1,-.1,0,-.4]
];
// Row dendrogram: [merge distance, left, right]; numbers at the ends are 1-based row numbers.
const chainA=[22,98,[21,99,[17,100,[14,101,102]]]];
const chainB=[30,103,[29,104,[28,105,[27,106,[26,[19,107,108],[25,109,[24,110,[21,[16,111,112],[19,113,[16,114,[14,115,[13,116,[11,117,118]]]]]]]]]]]]];
const lowerGroup=[49,89,[45,90,[43,[37,[35,91,92],[24,93,94]],[40,[35,95,96],[38,97,[36,chainA,chainB]]]]]];
const clusterA=[67,[48,1,[38,2,[35,[29,3,4],[22,5,6]]]],[66,7,[54,[54,8,[54,9,10]],[53,[35,11,[24,12,13]],[52,[35,14,[35,15,16]],[51,[25,17,18],[48,[38,[26,19,[19,20,21]],[32,22,23]],[45,[29,24,25],[44,[35,26,27],[44,[32,28,29],[42,[38,[30,30,31],[32,32,[32,33,34]]],[40,35,[38,[21,36,37],[31,38,[21,39,[17,40,[13,41,[10,42,[6,43,44]]]]]]]]]]]]]]]]]]];
const clusterB=[69,[57,[49,45,[38,46,47]],[51,48,[45,49,50]]],[68,[61,[49,51,[32,52,53]],[56,[52,54,[45,55,56]],[55,57,[49,58,[43,59,[29,60,61]]]]]],[67,62,[66,[44,63,64],[66,65,[63,[61,[49,66,[38,67,[32,68,69]]],[41,70,[30,71,[26,72,[22,73,[19,74,[17,75,[14,76,[11,77,78]]]]]]]]],[59,[49,79,[35,80,[29,81,82]]],[57,83,[53,[45,84,85],[50,[35,86,[32,87,88]],lowerGroup]]]]]]]]]];
const dendroTree=[83,clusterA,clusterB];
// Sunburst classes, clockwise from the top
const aminoAcid=['Vanylglycol','Vanillylmandelic acid','Se-Methylselenocysteine','Pyroglutamic acid','Picolinic acid','Norspermidine','Norepinephrine','N-Acetylputrescine','N-Acetylhistidine','L-Valine','L-Proline','L-Methionine','L-Glutamic acid','L-Dopa','Indolelactic acid','Indoleacetic acid','Imidazolepropionic acid','Homo-L-arginine','Hippuric acid','Guanidinosuccinic acid','Dopamine','cis-4-Hydroxy-D-proline','','Betaine','Acetylcysteine','4-Oxoglutaramate','4-Hydroxyphenylacetaldehyde','3-Sulfinylpyruvic acid','3-Dehydroshikimate','(2R,3R)-3-Methylglutamyl-5…'];
const lipid=['Trifolirhizin','Suberic acid','Sphingosine 1-phosphate','Sphingosine','Qing Hau Sau','O-Phosphoethanolamine','LysoPA(16:0/0:0)','Lithocholic acid','Leukotriene F4','L-Carnitine','Epigallocatechin gallate','Dodecanoic acid','Dehydroepiandrosterone','Cholesterol','Butyryl-L-carnitine','Azelaic acid','Allocholic acid','9,10-Epoxyoctadecenoic acid','9(S)-HPODE','2-Oxo-4-methylthiobutanoic acid','26-Hydroxyecdysone','1…','17a-Estradiol','12-Hydroxydodecanoic acid','12,13-DHOME','(7Z,10Z,13Z,16Z,19Z)…','(13E)-11a-Hydroxy-9,15…'];
const unknow=['S-[(E)-N-Hydroxy(indol-3…','Rimantadine','p-Coumaroyl-D-glucose','N5-Methyl-L-glutamine','N3-Fumaroyl-L-2,3…','Mirtazapine','Metoclopramide','Methyl (indol-3-yl)acetate','L-Prolinamide','Isophorone','Ipratropium','Indican','HC-toxin','Gingerol','Eugenol','Deoxycorticosterone acetate','beta-D-Glucosamine','Aspirin','7-Methylguanine','4-Hydroxyphenyl-2-propionic…','2,4-Dinitrophenol','(2S)-2-{[1-(R)…'];
const xenobiotics=['Theobromine','Myclobutanil','Hydroquinone','Dibutyl phthalate','Catechol','Caffeine','Caffeic acid','Betonicine','Beta-Guanidinopropionic acid','Benzoyl phosphate','Benzamide','Adipic acid','5,6-Dihydro-5-fluorouracil','3-Hydroxyphenylacetic acid'];
const carbohydrate=['Sorbitol','Phosphoglycolic acid','N-Glycolylneuraminic acid','N-Acetyl-D-glucosamine','L-Fucose','Hydroxypyruvic acid','Glyceric acid','Galactitol','Fructose-1P','D-Glucuronic acid','Citric acid','Alpha-D-Glucose'];
const cofactors=['Porphobilinogen','Pantetheine','Nicotinuric acid','Nicotinic acid','Folic acid','Biotin'];
const nucleotide=['Uracil','Pseudouridine','GMP','Dihydrouracil'];
const energy=['Fructose 1,6-bisphosphate','3-Methylthiopropionic acid'];
const unnamedClass=['Glycylleucine'];
const classNames=['Amino acid','Lipid','Unknow','Xenobiotics','Carbohydrate','Cofactors and Vitamins','Nucleotide','Energy',''];
const classMembers=[aminoAcid,lipid,unknow,xenobiotics,carbohydrate,cofactors,nucleotide,energy,unnamedClass];
const classColors=['#C5DDAC','#F4E0B3','#CDFDF6','#E5C2FC','#FC7A5E','#DDD8A9','#E8A79E','#FBE09B','#D6E0EF'];

const serif='Liberation Serif';
const heatData=[];
heatValues.forEach((r,y)=>r.forEach((v,x)=>heatData.push([x,y,v])));
const segments=[];
(function walk(n){
  if(typeof n==='number')return {d:0,y:n-0.5};
  const a=walk(n[1]),b=walk(n[2]),d=n[0];
  segments.push([a.d,a.y,d,a.y],[b.d,b.y,d,b.y],[d,a.y,d,b.y]);
  return {d,y:(a.y+b.y)/2};
})(dendroTree);
const groupSeries=groupNames.map((g,i)=>({
  name:g,type:'bar',xAxisIndex:1,yAxisIndex:1,stack:'cls',barCategoryGap:'0%',
  itemStyle:{color:groupColors[i],borderColor:'#c4c4c4',borderWidth:1.5},
  data:sampleNames.map(s=>s.slice(0,2)===g.slice(0,2)?1:'-')
}));
const sunData=classNames.map((c,i)=>({
  name:c,itemStyle:{color:classColors[i]},
  children:classMembers[i].map(m=>({name:m,value:1,itemStyle:{color:classColors[i]}}))
}));
const H={left:131,top:137.6,width:1122.6,height:2258.5};
const option={
 animation:false,backgroundColor:'#fff',
 textStyle:{fontFamily:serif},
 grid:[
  {...H,containLabel:false},
  {left:H.left,top:120.6,width:H.width,height:12},
  {left:48,top:H.top,width:83,height:H.height},
  {left:1550,top:117,width:17,height:243}
 ],
 xAxis:[
  {gridIndex:0,type:'category',data:sampleNames,position:'bottom',axisLine:{show:false},axisTick:{show:false},splitLine:{show:false},
   axisLabel:{interval:0,rotate:-90,margin:9,fontFamily:serif,fontSize:18.5,color:'#333'}},
  {gridIndex:1,type:'category',data:sampleNames,show:false},
  {gridIndex:2,type:'value',min:0,max:83,inverse:true,show:false},
  {gridIndex:3,type:'category',data:[''],show:false}
 ],
 yAxis:[
  {gridIndex:0,type:'category',data:rowNames,inverse:true,position:'right',axisLine:{show:false},axisTick:{show:false},splitLine:{show:false},
   axisLabel:{interval:0,margin:5,fontFamily:serif,fontSize:13.2,color:'#333'}},
  {gridIndex:1,type:'value',min:0,max:1,show:false},
  {gridIndex:2,type:'value',min:0,max:118,inverse:true,show:false},
  {gridIndex:3,type:'value',min:-5.65,max:5.65,position:'right',axisLine:{show:false},axisTick:{show:false},splitLine:{show:false},
   axisLabel:{customValues:colorTicks,margin:6,fontFamily:serif,fontSize:13,color:'#555'}}
 ],
 visualMap:{type:'continuous',seriesIndex:0,dimension:2,min:-5.65,max:5.65,left:1550,top:117,itemWidth:17,itemHeight:243,padding:0,calculable:false,text:null,
  inRange:{color:['#0000ff','#ffffff','#ff0000']},textStyle:{color:'#fff',fontSize:1},showLabel:false},
 legend:{data:groupNames,orient:'vertical',left:1585,top:132,padding:0,itemWidth:16,itemHeight:16,itemGap:1,selectedMode:false,icon:'rect',
  textStyle:{fontFamily:serif,fontSize:12,color:'#444'}},
 graphic:[
  {type:'text',left:25,top:18,style:{text:'A',font:'116px "Liberation Serif"',fill:'#000'}},
  {type:'text',left:2066,top:18,style:{text:'B',font:'116px "Liberation Serif"',fill:'#000'}},
  {type:'text',left:1258,top:118,style:{text:'cls',font:'bold 13px "Liberation Serif"',fill:'#333'}},
  {type:'text',left:1584,top:116,style:{text:'cls',font:'bold 13px "Liberation Serif"',fill:'#333'}},
  {type:'text',x:2947,y:1304,style:{text:'Serum',font:'bold 140px "Liberation Serif"',fill:'#000',align:'center',verticalAlign:'middle'}}
 ],
 series:[
  {type:'heatmap',xAxisIndex:0,yAxisIndex:0,data:heatData,progressive:0,
   itemStyle:{borderColor:'#bcbcbc',borderWidth:1.5},emphasis:{disabled:true}},
  ...groupSeries,
  {type:'custom',xAxisIndex:2,yAxisIndex:2,data:segments,silent:true,encode:{x:[0,2],y:[1,3]},clip:false,
   renderItem:(p,api)=>{
     const a=api.coord([api.value(0),api.value(1)]),b=api.coord([api.value(2),api.value(3)]);
     return {type:'line',shape:{x1:a[0],y1:a[1],x2:b[0],y2:b[1]},style:{stroke:'#444',lineWidth:2}};
   }},
  {type:'sunburst',center:[2927,1296],radius:[373,1113],startAngle:90,clockwise:true,sort:null,nodeClick:false,silent:true,
   data:sunData,
   itemStyle:{borderColor:'#fff',borderWidth:4},
   label:{rotate:'radial',color:'#000',fontFamily:serif,fontWeight:'bold',minAngle:0},
   levels:[{},
    {r0:373,r:742,label:{fontSize:36},itemStyle:{borderWidth:4}},
    {r0:742,r:1113,label:{fontSize:26},itemStyle:{borderWidth:4}}]}
 ]
};
echarts.init(document.getElementById('c'),null,{renderer:'canvas'}).setOption(option);
</script></body></html>
